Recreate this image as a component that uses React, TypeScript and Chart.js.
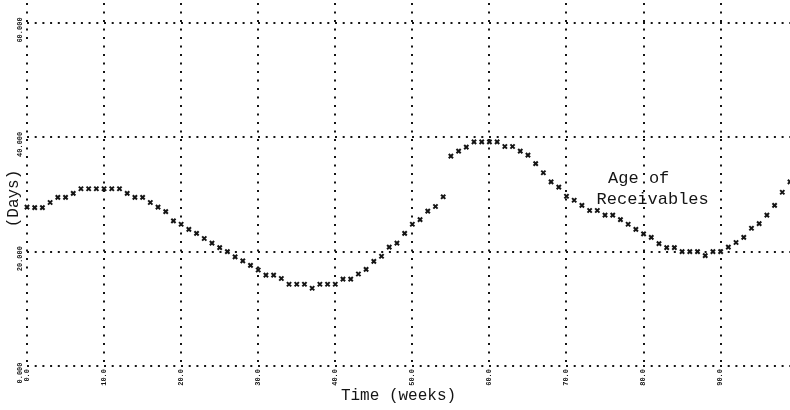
import React, { useEffect, useRef } from "react";
import { Chart, registerables } from "chart.js";

Chart.register(...registerables);

// Time axis (weeks) and the plotted variable
const weeks = [
  0, 1, 2, 3, 4, 5, 6, 7, 8, 9, 10, 11, 12, 13, 14, 15, 16, 17, 18, 19,
  20, 21, 22, 23, 24, 25, 26, 27, 28, 29, 30, 31, 32, 33, 34, 35, 36, 37, 38, 39,
  40, 41, 42, 43, 44, 45, 46, 47, 48, 49, 50, 51, 52, 53, 54, 55, 56, 57, 58, 59,
  60, 61, 62, 63, 64, 65, 66, 67, 68, 69, 70, 71, 72, 73, 74, 75, 76, 77, 78, 79,
  80, 81, 82, 83, 84, 85, 86, 87, 88, 89, 90, 91, 92, 93, 94, 95, 96, 97, 98, 99,
];

const ageOfReceivables = [
  27.8, 27.7, 27.7, 28.6, 29.5, 29.5, 30.2, 31.0, 31.0, 31.0,
  31.0, 31.0, 31.0, 30.2, 29.5, 29.5, 28.6, 27.8, 27.0, 25.4,
  24.8, 23.9, 23.2, 22.3, 21.5, 20.7, 20.0, 19.1, 18.4, 17.6,
  16.8, 15.9, 15.9, 15.3, 14.3, 14.3, 14.3, 13.6, 14.3, 14.3,
  14.3, 15.2, 15.2, 16.1, 16.9, 18.3, 19.2, 20.8, 21.5, 23.2,
  24.8, 25.6, 27.1, 27.9, 29.6, 36.7, 37.6, 38.3, 39.2, 39.2,
  39.2, 39.2, 38.4, 38.4, 37.6, 36.9, 35.4, 33.8, 32.2, 31.3,
  29.7, 29.0, 28.1, 27.2, 27.2, 26.4, 26.4, 25.6, 24.8, 23.9,
  23.1, 22.5, 21.4, 20.7, 20.7, 20.0, 20.0, 20.0, 19.3, 20.0,
  20.0, 20.8, 21.6, 22.5, 24.1, 24.9, 26.4, 28.1, 30.4, 32.2,
];

const xTickValues = [0, 10, 20, 30, 40, 50, 60, 70, 80, 90];
const yTickValues = [0, 20, 40, 60];

const xTitle = "Time (weeks)";
const yTitle = "(Days)";
const seriesLabelLines = ["Age of", "Receivables"];

export default function App() {
  const canvasRef = useRef<HTMLCanvasElement>(null);

  useEffect(() => {
    if (!canvasRef.current) return;
    const ink = "#141414";
    const mono = "'Liberation Mono', 'DejaVu Sans Mono', monospace";

    const textPlugin = {
      id: "plotText",
      afterDraw(chart: any) {
        const { ctx, chartArea, scales } = chart;
        const xs = scales.x;
        const ys = scales.y;
        ctx.save();
        ctx.fillStyle = ink;

        // y tick labels (rotated)
        ctx.font = `bold 7px ${mono}`;
        ctx.textBaseline = "middle";
        yTickValues.forEach((v) => {
          const py = ys.getPixelForValue(v);
          ctx.save();
          ctx.translate(chartArea.left - 7, py + 7);
          ctx.rotate(-Math.PI / 2);
          ctx.textAlign = "center";
          ctx.fillText(v.toFixed(3), 0, 0);
          ctx.restore();
        });

        // x tick labels (rotated)
        xTickValues.forEach((v) => {
          const px = xs.getPixelForValue(v);
          ctx.save();
          ctx.translate(px, chartArea.bottom + 3);
          ctx.rotate(-Math.PI / 2);
          ctx.textAlign = "right";
          ctx.fillText(v.toFixed(1), 0, 0);
          ctx.restore();
        });

        // y title
        ctx.font = `16px ${mono}`;
        ctx.save();
        ctx.translate(14, ys.getPixelForValue(29.3));
        ctx.rotate(-Math.PI / 2);
        ctx.textAlign = "center";
        ctx.fillText(yTitle, 0, 0);
        ctx.restore();

        // x title
        ctx.textAlign = "center";
        ctx.fillText(xTitle, (chartArea.left + chartArea.right) / 2 - 10, chartArea.bottom + 30);

        // series annotation
        ctx.font = `17px ${mono}`;
        ctx.textAlign = "left";
        ctx.fillText(seriesLabelLines[0], xs.getPixelForValue(75.4), ys.getPixelForValue(32.8));
        ctx.fillText(seriesLabelLines[1], xs.getPixelForValue(73.9), ys.getPixelForValue(29.2));
        ctx.restore();
      },
    };

    const chart = new Chart(canvasRef.current, {
      type: "scatter",
      data: {
        datasets: [
          {
            label: "Age of Receivables",
            data: weeks.map((w, i) => ({ x: w, y: ageOfReceivables[i] })),
            pointStyle: "crossRot",
            pointRadius: 3,
            borderWidth: 2,
            borderColor: ink,
            backgroundColor: ink,
            showLine: false,
            clip: 6,
          },
        ],
      },
      options: {
        responsive: false,
        animation: false,
        layout: { autoPadding: false, padding: { top: 3, left: 0, right: 0, bottom: 0 } },
        plugins: {
          legend: { display: false },
          tooltip: { enabled: false },
        },
        scales: {
          x: {
            type: "linear",
            min: 0,
            max: 99,
            afterBuildTicks: (s: any) => {
              s.ticks = xTickValues.map((v) => ({ value: v }));
            },
            afterFit: (s: any) => {
              s.height = 44;
            },
            grid: { color: ink, lineWidth: 2, drawTicks: false },
            border: { display: false, dash: [2, 6.5] },
            ticks: { display: false },
          },
          y: {
            type: "linear",
            min: 0,
            max: 63.5,
            afterBuildTicks: (s: any) => {
              s.ticks = yTickValues.map((v) => ({ value: v }));
            },
            afterFit: (s: any) => {
              s.width = 27;
            },
            grid: { color: ink, lineWidth: 2, drawTicks: false },
            border: { display: false, dash: [2, 5.7] },
            ticks: { display: false },
          },
        },
      },
      plugins: [textPlugin],
    } as any);

    return () => chart.destroy();
  }, []);

  return (
    <div style={{ position: "fixed", left: 0, top: 0, width: 790, height: 410, background: "#ffffff" }}>
      <canvas ref={canvasRef} width={790} height={410} style={{ display: "block" }} />
    </div>
  );
}
